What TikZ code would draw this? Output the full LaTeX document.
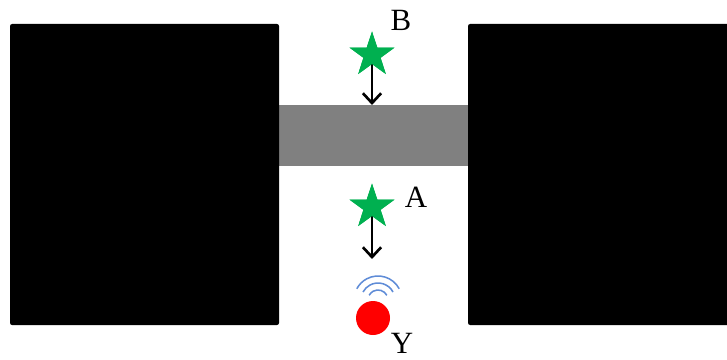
\documentclass[tikz,border=0pt]{standalone}
\usepackage{fontspec}
\setmainfont{Liberation Serif}
\usetikzlibrary{shapes.geometric,arrows.meta}
\definecolor{stargreen}{RGB}{0,176,80}
\definecolor{wavecol}{RGB}{95,140,215}
\begin{document}
\begin{tikzpicture}[x=0.025cm,y=-0.025cm,
  block/.style={fill=black,rounded corners=1.5pt},
  starnode/.style={star,star points=5,star point ratio=2.6,fill=stargreen,draw=none,minimum size=47*0.025cm,inner sep=0pt},
  downarrow/.style={draw=black,line width=1.9pt,-{Straight Barb[length=7pt,width=13pt,line width=1.9pt]}},
  lab/.style={font=\fontsize{22}{22}\selectfont,inner sep=0pt},
  wave/.style={draw=wavecol,line width=1.1pt}]
\useasboundingbox (0,0) rectangle (727,360);
\clip (0,0) rectangle (727,360);
\fill[black!50] (270,105) rectangle (476,166);
\node[block,minimum width=269*0.025cm,minimum height=301*0.025cm,inner sep=0pt] (left) at (144.5,174.5) {};
\node[block,minimum width=270*0.025cm,minimum height=301*0.025cm,inner sep=0pt] (right) at (603,174.5) {};
\coordinate (bartop) at (372,105);
\coordinate (wavetop) at (372,259);
\node[starnode] (sB) at (372,55) {};
\node[starnode] (sA) at (372,207) {};
\draw[downarrow] (sB.center) -- (bartop);
\draw[downarrow] (sA.center) -- (wavetop);
\node[starnode] at (sB) {};
\node[starnode] at (sA) {};
\node[lab] (B) at (401,20) {B};
\node[lab] (A) at (416,197) {A};
\node[circle,fill=red,minimum size=34*0.025cm,inner sep=0pt] (Y) at (373,318) {};
\node[lab] (Ylab) at (402,343) {Y};
\coordinate (wc) at (378,300);
\foreach \r in {10,17,24}
  \draw[wave] ([shift={(28:\r*0.025cm)}]wc) arc[start angle=28,end angle=152,radius=\r*0.025cm];
\end{tikzpicture}
\end{document}
